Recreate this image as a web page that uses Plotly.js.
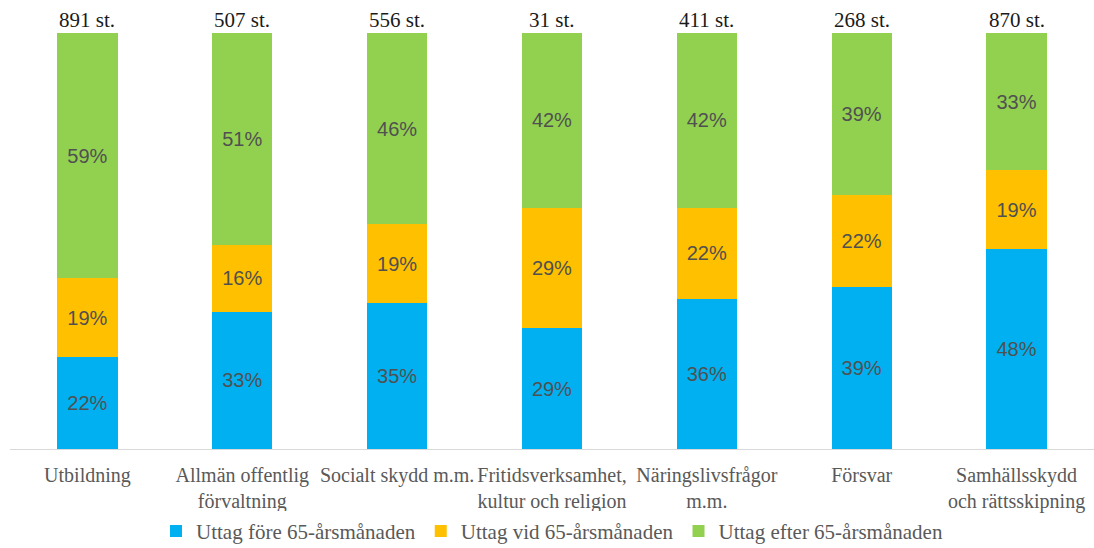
<!DOCTYPE html>
<html><head><meta charset="utf-8">
<script src="https://cdn.plot.ly/plotly-3.0.1.min.js"></script>
<style>html,body{margin:0;padding:0;background:#fff}#chart{width:1094px;height:548px}</style>
</head><body><div id="chart"></div>
<script>
const categories = ["Utbildning","Allmän offentlig<br>förvaltning","Socialt skydd m.m.","Fritidsverksamhet,<br>kultur och religion","Näringslivsfrågor<br>m.m.","Försvar","Samhällsskydd<br>och rättsskipning"];
const fore = [22,33,35,29,36,39,48];
const vid = [19,16,19,29,22,22,19];
const efter = [59,51,46,42,42,39,33];
const counts = ["891 st.","507 st.","556 st.","31 st.","411 st.","268 st.","870 st."];
const seriesNames = ["Uttag före 65-årsmånaden","Uttag vid 65-årsmånaden","Uttag efter 65-årsmånaden"];
const colors = ["#00B0F0","#FFC000","#92D050"];

const series = [fore, vid, efter];
const traces = series.map((vals,i)=>({
  type:'bar', x:categories, y:vals, name:seriesNames[i],
  marker:{color:colors[i]}, width:0.39,
  text: vals.map(v=>v+'%'), textposition:'inside', insidetextanchor:'middle',
  textfont:{family:'Liberation Sans, Arial, sans-serif', size:20, color:'#505050'},
  hoverinfo:'none'
}));

const annotations = categories.map((c,i)=>({
  x:c, y:100, xref:'x', yref:'y', yanchor:'bottom', yshift:-1,
  text:counts[i], showarrow:false,
  font:{family:'Liberation Serif, serif', size:21, color:'#1a1a1a'}
}));

const layout = {
  barmode:'stack', width:1094, height:548,
  margin:{l:10,r:0,t:33,b:99, autoexpand:false},
  paper_bgcolor:'#fff', plot_bgcolor:'#fff',
  xaxis:{showline:true, linecolor:'#d9d9d9', linewidth:1, ticks:'', showgrid:false,
    ticklabelstandoff:8,
    tickfont:{family:'Liberation Serif, serif', size:20, color:'#595959'}},
  yaxis:{range:[0,100], visible:false, showgrid:false, zeroline:false},
  showlegend:true,
  legend:{orientation:'h', x:0.5, xanchor:'center', y:-0.198, yanchor:'middle',
    font:{family:'Liberation Serif, serif', size:21, color:'#595959'}, traceorder:'normal'},
  annotations:annotations
};
Plotly.newPlot('chart', traces, layout, {displayModeBar:false, staticPlot:true});
</script></body></html>
